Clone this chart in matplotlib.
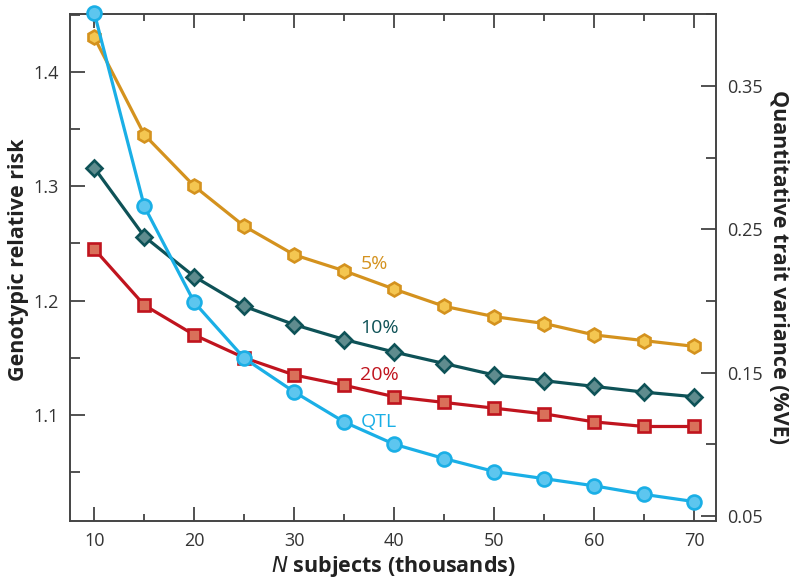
import matplotlib
matplotlib.use("Agg")
import matplotlib.pyplot as plt
from matplotlib.ticker import MultipleLocator

plt.rcParams['font.family'] = ['Open Sans', 'DejaVu Sans']

n_subjects = [10, 15, 20, 25, 30, 35, 40, 45, 50, 55, 60, 65, 70]
rr_5 = [1.430, 1.345, 1.300, 1.265, 1.240, 1.226, 1.210, 1.195, 1.186, 1.180, 1.170, 1.165, 1.160]
rr_10 = [1.316, 1.256, 1.221, 1.195, 1.179, 1.166, 1.155, 1.145, 1.135, 1.130, 1.125, 1.120, 1.116]
rr_20 = [1.245, 1.196, 1.170, 1.150, 1.135, 1.126, 1.116, 1.111, 1.106, 1.101, 1.094, 1.090, 1.090]
qtl_ve = [0.401, 0.266, 0.199, 0.160, 0.1365, 0.1155, 0.100, 0.090, 0.081, 0.076, 0.071, 0.065, 0.060]

fig = plt.figure(figsize=(8, 5.87), dpi=100)
ax = fig.add_axes([0.0875, 0.113, 0.808, 0.863])
ax2 = ax.twinx()

spine_c = '#444444'
tick_c = '#333333'

def style(a):
    for s in a.spines.values():
        s.set_color(spine_c)
        s.set_linewidth(1.2)

lw = 2.3
series = [
    (rr_5, 'h', 10, '#D4921E', '#F4C651'),
    (rr_10, 'D', 8.5, '#0E5257', '#5F8C8E'),
    (rr_20, 's', 8.5, '#C0141E', '#D9705A'),
]
for vals, mk, ms, lc, fc in series:
    ax.plot(n_subjects, vals, color=lc, lw=lw, marker=mk, ms=ms,
            mfc=fc, mec=lc, mew=1.9, zorder=3)

ax2.plot(n_subjects, qtl_ve, color='#1AAFE6', lw=lw, marker='o', ms=10,
         mfc='#5DC6EF', mec='#1AAFE6', mew=1.9, zorder=3, clip_on=False)

ax.set_xlim(7.57, 72.2)
ax.set_ylim(1.0077, 1.4504)
ax2.set_ylim(0.0467, 0.4002)

ax.xaxis.set_major_locator(MultipleLocator(10))
ax.xaxis.set_minor_locator(MultipleLocator(5))
ax.yaxis.set_major_locator(MultipleLocator(0.1))
ax.yaxis.set_minor_locator(MultipleLocator(0.05))
ax2.yaxis.set_major_locator(MultipleLocator(0.1))
ax2.yaxis.set_minor_locator(MultipleLocator(0.05))

ax.tick_params(axis='x', which='both', direction='in', top=True, colors=tick_c, labelsize=13, pad=8)
ax.tick_params(axis='x', which='major', length=10, width=1.2)
ax.tick_params(axis='x', which='minor', length=5, width=1.2)
ax.tick_params(axis='y', which='both', direction='in', right=False, colors=tick_c, labelsize=13, pad=8)
ax.tick_params(axis='y', which='major', length=11, width=1.2)
ax.tick_params(axis='y', which='minor', length=7, width=1.2)
ax2.tick_params(axis='y', which='both', direction='in', colors=tick_c, labelsize=13, pad=8)
ax2.tick_params(axis='y', which='major', length=11, width=1.2)
ax2.tick_params(axis='y', which='minor', length=7, width=1.2)

ax.set_yticks([1.1, 1.2, 1.3, 1.4])
ax.set_yticklabels(['1.1', '1.2', '1.3', '1.4'])
ax2.set_yticks([0.05, 0.15, 0.25, 0.35])
ax2.set_yticklabels(['0.05', '0.15', '0.25', '0.35'])

style(ax)
style(ax2)

ax.set_xlabel(r'$\bf{\it{N}}$ subjects (thousands)', fontsize=15.5, fontweight='bold', color='#222222', labelpad=3)
ax.set_ylabel('Genotypic relative risk', fontsize=15.5, fontweight='bold', color='#222222',
              va='center', ha='center')
ax.yaxis.set_label_coords(-0.080, 0.515)
ax2.set_ylabel('Quantitative trait variance (%VE)', fontsize=15.5, fontweight='bold', color='#222222',
               rotation=270, va='center', ha='center')
ax2.yaxis.set_label_coords(1.096, 0.5)

ax.text(36.6, 1.232, '5%', color='#D4921E', fontsize=14, va='center')
ax.text(36.6, 1.176, '10%', color='#0E5257', fontsize=14, va='center')
ax.text(36.6, 1.135, '20%', color='#C0141E', fontsize=14, va='center')
ax.text(36.6, 1.094, 'QTL', color='#1AAFE6', fontsize=14, va='center')

fig.savefig('out.png', dpi=100)
